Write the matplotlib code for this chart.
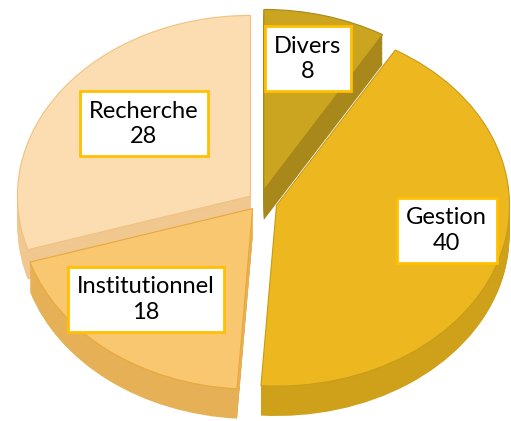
import matplotlib
matplotlib.use("Agg")
import matplotlib.pyplot as plt

# données du graphique
categories = ["Divers", "Gestion", "Institutionnel", "Recherche"]
values = [8, 40, 18, 28]

# style
top_colors = ["#CBA420", "#EDB81F", "#F9C770", "#FBDDB1"]
side_colors = ["#A8881A", "#CFA01A", "#E6B057", "#EFC78F"]
edge_colors = ["#A8881A", "#C99C18", "#E8A93A", "#F1C27F"]
explode = [0.065, 0.075, 0.05, 0.05]
label_pos = [(0.205, 0.79), (0.802, -0.16), (-0.489, -0.543), (-0.498, 0.43)]

fig = plt.figure(figsize=(5.11, 4.21), dpi=100)
ax = fig.add_axes([0, 0, 1, 1])

# épaisseur : plusieurs camemberts empilés, décalés vers le bas
depth = 0.165
n_layers = 24
for k in range(n_layers, 0, -1):
    dz = depth * k / n_layers
    ax.pie(values, explode=explode, colors=side_colors, startangle=90,
           counterclock=False, center=(0, -dz), wedgeprops=dict(linewidth=0))

# face du dessus
wedges, _ = ax.pie(values, explode=explode, colors=top_colors, startangle=90,
                   counterclock=False, wedgeprops=dict(linewidth=0.8))
for w, ec in zip(wedges, edge_colors):
    w.set_edgecolor(ec)

# étiquettes
for cat, val, (x, y) in zip(categories, values, label_pos):
    ax.text(x, y, f"{cat}\n{val}", ha="center", va="center", fontsize=17,
            family="Lato", linespacing=1.25, zorder=10,
            bbox=dict(boxstyle="square,pad=0.4", fc="white", ec="#FFC000", lw=2))

ax.set_aspect("auto")
ax.set_xlim(-1.115, 1.078)
ax.set_ylim(-1.215, 1.115)
ax.axis("off")

fig.savefig("out.png", dpi=100)
